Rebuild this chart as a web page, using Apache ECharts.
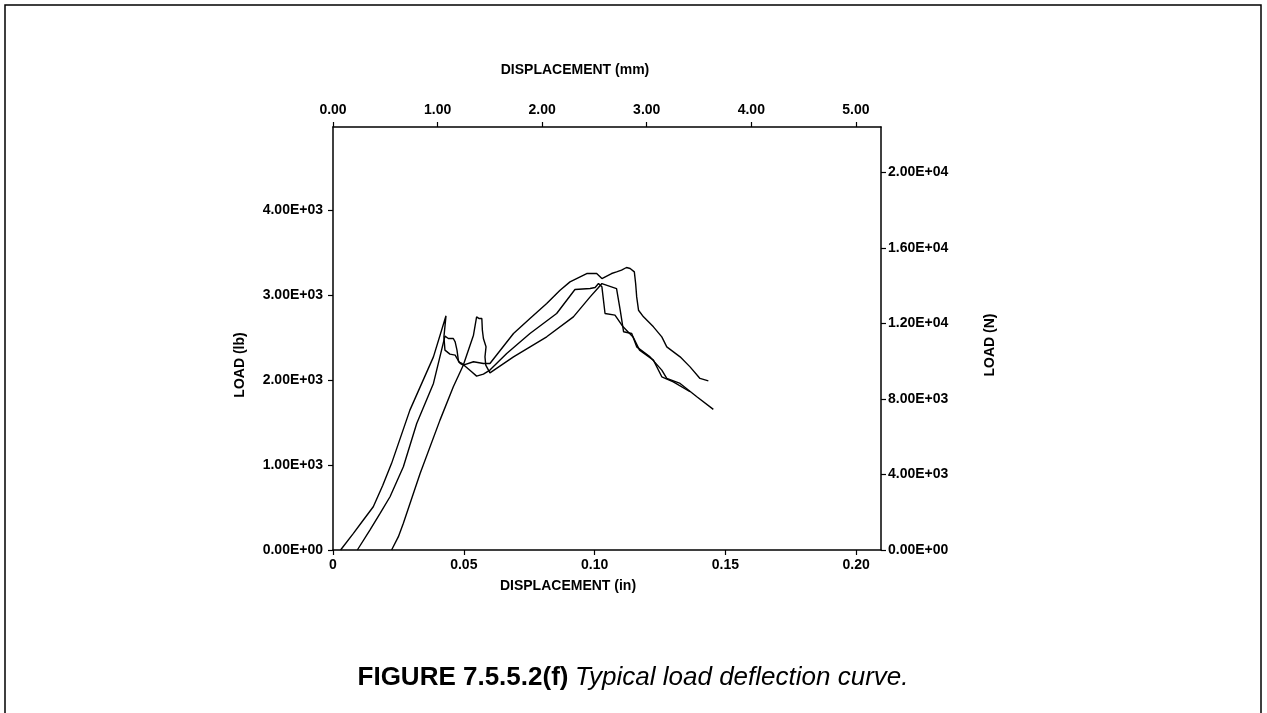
<!DOCTYPE html>
<html>
<head>
<meta charset="utf-8">
<script src="https://cdn.jsdelivr.net/npm/echarts@6/dist/echarts.min.js"></script>
<style>
  html, body { margin: 0; padding: 0; background: #fff; }
  #chart { width: 1267px; height: 713px; }
</style>
</head>
<body>
<div id="chart"></div>
<script>
// displacement (in) , load (lb)
var curveA = [
  [0.0029, 0], [0.0078, 196], [0.0116, 353], [0.0154, 509], [0.0190, 760], [0.0224, 1020],
  [0.0294, 1647], [0.0384, 2274], [0.0432, 2757], [0.0424, 2509], [0.0428, 2353],
  [0.0447, 2306], [0.0467, 2294], [0.0474, 2255], [0.0486, 2196], [0.0498, 2176],
  [0.0537, 2216], [0.0575, 2196], [0.0600, 2196], [0.0690, 2549], [0.0753, 2725],
  [0.0817, 2902], [0.0868, 3059], [0.0906, 3157], [0.0970, 3255], [0.1008, 3255],
  [0.1028, 3196], [0.1033, 3196], [0.1065, 3255], [0.1084, 3274], [0.1103, 3294],
  [0.1122, 3326], [0.1136, 3314], [0.1152, 3274], [0.1157, 3137], [0.1161, 2980],
  [0.1168, 2823], [0.1187, 2745], [0.1225, 2627], [0.1257, 2509], [0.1276, 2392],
  [0.1327, 2274], [0.1365, 2156], [0.1403, 2020], [0.1435, 1992]
];
var curveB = [
  [0.0093, 0], [0.0141, 235], [0.0180, 431], [0.0218, 627], [0.0269, 980],
  [0.0320, 1490], [0.0384, 1961], [0.0428, 2518], [0.0441, 2490], [0.0460, 2490],
  [0.0467, 2451], [0.0474, 2353], [0.0480, 2216], [0.0493, 2196], [0.0530, 2098],
  [0.0549, 2047], [0.0575, 2071], [0.0600, 2118], [0.0664, 2314], [0.0753, 2549],
  [0.0855, 2784], [0.0925, 3067], [0.0983, 3078], [0.1002, 3090], [0.1015, 3137],
  [0.1028, 3098], [0.1040, 2784], [0.1078, 2765], [0.1109, 2627], [0.1147, 2509],
  [0.1172, 2353], [0.1225, 2235], [0.1257, 2039], [0.1301, 1980], [0.1365, 1863]
];
var curveC = [
  [0.0224, 0], [0.0250, 157], [0.0269, 314], [0.0333, 900], [0.0409, 1529],
  [0.0460, 1921], [0.0498, 2176], [0.0537, 2529], [0.0549, 2745], [0.0559, 2725],
  [0.0569, 2725], [0.0571, 2588], [0.0575, 2490], [0.0585, 2392], [0.0581, 2274],
  [0.0584, 2176], [0.0600, 2086], [0.0690, 2274], [0.0817, 2510], [0.0919, 2745],
  [0.0983, 2980], [0.1015, 3090], [0.1028, 3137], [0.1084, 3078], [0.1098, 2823],
  [0.1111, 2569], [0.1142, 2549], [0.1161, 2392], [0.1212, 2274], [0.1257, 2118],
  [0.1276, 2020], [0.1327, 1961], [0.1391, 1804], [0.1454, 1655]
];

var inchRange = [0, 0.2095];
var mmRange = [0, 5.24];
var lbRange = [0, 4980];
var nRange = [0, 22400];

function sci(v) {
  if (v === 0) return '0.00E+00';
  var e = Math.floor(Math.log10(Math.abs(v)) + 1e-9);
  var m = v / Math.pow(10, e);
  return m.toFixed(2) + 'E+' + (e < 10 ? '0' : '') + e;
}

var font = 'Liberation Sans, Arial, sans-serif';
var lbl = { color: '#000', fontFamily: font, fontWeight: 'bold', fontSize: 14 };
var axLine = { show: true, onZero: false, lineStyle: { color: '#000', width: 1.5 } };
var tick = { show: true, length: 5, lineStyle: { color: '#000', width: 1.2 } };

var chart = echarts.init(document.getElementById('chart'));
chart.setOption({
  animation: false,
  backgroundColor: '#fff',
  grid: { left: 333, top: 127, right: 386, bottom: 163 },
  xAxis: [
    {
      type: 'value', position: 'bottom', min: inchRange[0], max: inchRange[1], interval: 0.05,
      axisLine: axLine, axisTick: tick, splitLine: { show: false },
      axisLabel: Object.assign({}, lbl, { margin: 8, showMaxLabel: false,
        formatter: function (v) { return v === 0 ? '0' : v.toFixed(2); } })
    },
    {
      type: 'value', position: 'top', min: mmRange[0], max: mmRange[1], interval: 1,
      axisLine: axLine, axisTick: tick, splitLine: { show: false },
      axisLabel: Object.assign({}, lbl, { margin: 10, showMaxLabel: false,
        formatter: function (v) { return v.toFixed(2); } })
    }
  ],
  yAxis: [
    {
      type: 'value', position: 'left', min: lbRange[0], max: lbRange[1], interval: 1000,
      axisLine: axLine, axisTick: tick, splitLine: { show: false },
      axisLabel: Object.assign({}, lbl, { margin: 10, showMaxLabel: false, formatter: sci })
    },
    {
      type: 'value', position: 'right', min: nRange[0], max: nRange[1], interval: 4000,
      axisLine: axLine, axisTick: tick, splitLine: { show: false },
      axisLabel: Object.assign({}, lbl, { margin: 7, showMaxLabel: false, formatter: sci })
    }
  ],
  series: [curveA, curveB, curveC].map(function (d) {
    return {
      type: 'line', xAxisIndex: 0, yAxisIndex: 0, data: d,
      symbol: 'none', smooth: false,
      lineStyle: { color: '#000', width: 1.4 }
    };
  }),
  graphic: [
    { type: 'rect', shape: { x: 5, y: 5, width: 1256, height: 730 },
      style: { fill: 'none', stroke: '#000', lineWidth: 1.5 } },
    { type: 'text', x: 575, y: 70,
      style: Object.assign({ text: 'DISPLACEMENT (mm)', align: 'center', verticalAlign: 'middle' }, lbl, { fill: '#000' }) },
    { type: 'text', x: 568, y: 586,
      style: Object.assign({ text: 'DISPLACEMENT (in)', align: 'center', verticalAlign: 'middle' }, lbl, { fill: '#000' }) },
    { type: 'text', x: 240, y: 365, rotation: Math.PI / 2,
      style: Object.assign({ text: 'LOAD (lb)', align: 'center', verticalAlign: 'middle' }, lbl, { fill: '#000' }) },
    { type: 'text', x: 990, y: 345, rotation: Math.PI / 2,
      style: Object.assign({ text: 'LOAD (N)', align: 'center', verticalAlign: 'middle' }, lbl, { fill: '#000' }) },
    { type: 'text', x: 633, y: 678,
      style: {
        text: '{b|FIGURE 7.5.5.2(f)}  {i|Typical load deflection curve.}',
        align: 'center', verticalAlign: 'middle',
        rich: {
          b: { fontFamily: font, fontWeight: 'bold', fontSize: 26, fill: '#000', color: '#000' },
          i: { fontFamily: font, fontStyle: 'italic', fontSize: 26, fill: '#000', color: '#000' }
        }
      } }
  ]
});
</script>
</body>
</html>
